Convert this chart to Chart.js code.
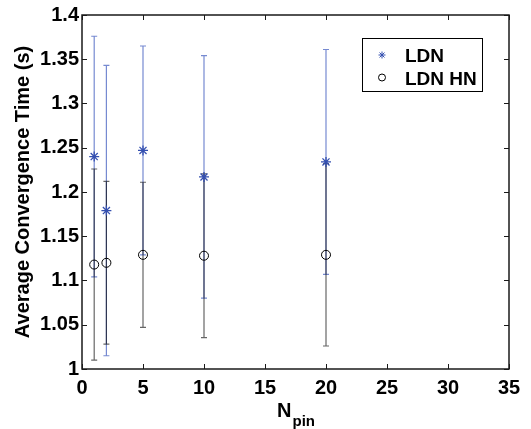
<!DOCTYPE html>
<html>
<head>
<meta charset="utf-8">
<script src="https://cdn.jsdelivr.net/npm/chart.js"></script>
<style>
  body { margin: 0; background: #fff; }
  #wrap { width: 531px; height: 429px; }
</style>
</head>
<body>
<div id="wrap"><canvas id="grafico" width="531" height="429"></canvas></div>
<script>
const nPin = [1, 2, 5, 10, 20];

const ldnMean = [1.240, 1.179, 1.247, 1.217, 1.234];
const ldnErr = [0.136, 0.164, 0.118, 0.137, 0.127];

const ldnHnMean = [1.118, 1.120, 1.129, 1.128, 1.129];
const ldnHnErr = [0.108, 0.092, 0.082, 0.0925, 0.103];

const xTicks = [0, 5, 10, 15, 20, 25, 30, 35];
const yTicks = [1, 1.05, 1.1, 1.15, 1.2, 1.25, 1.3, 1.35, 1.4];
const yTickLabels = ['1', '1.05', '1.1', '1.15', '1.2', '1.25', '1.3', '1.35', '1.4'];

const font = '"Liberation Sans", Arial, sans-serif';
const blue = '#3550b0';

const series = [
  { label: 'LDN', mean: ldnMean, err: ldnErr, barColor: 'rgba(60, 88, 190, 0.7)', style: 'star', color: blue },
  { label: 'LDN HN', mean: ldnHnMean, err: ldnHnErr, barColor: 'rgba(0, 0, 0, 0.6)', style: 'circle', color: '#000' }
];

// error bars drawn under the markers
const errorBars = {
  id: 'errorBars',
  beforeDatasetsDraw(chart) {
    const { ctx, scales: { x, y } } = chart;
    ctx.save();
    ctx.lineWidth = 1.2;
    series.forEach(s => {
      ctx.strokeStyle = s.barColor;
      nPin.forEach((n, i) => {
        const px = x.getPixelForValue(n);
        const top = y.getPixelForValue(s.mean[i] + s.err[i]);
        const bot = y.getPixelForValue(s.mean[i] - s.err[i]);
        ctx.beginPath();
        ctx.moveTo(px, top);
        ctx.lineTo(px, bot);
        ctx.moveTo(px - 3, top);
        ctx.lineTo(px + 3, top);
        ctx.moveTo(px - 3, bot);
        ctx.lineTo(px + 3, bot);
        ctx.stroke();
      });
    });
    ctx.restore();
  }
};

// box, inner ticks, legend and x title
const frame = {
  id: 'frame',
  afterDraw(chart) {
    const { ctx, chartArea: a, scales: { x, y } } = chart;
    ctx.save();
    ctx.strokeStyle = '#1a1a1a';
    ctx.lineWidth = 1;
    ctx.beginPath();
    xTicks.forEach(v => {
      const px = Math.round(x.getPixelForValue(v)) + 0.5;
      ctx.moveTo(px, a.bottom);
      ctx.lineTo(px, a.bottom - 5);
      ctx.moveTo(px, a.top);
      ctx.lineTo(px, a.top + 5);
    });
    yTicks.forEach(v => {
      const py = Math.round(y.getPixelForValue(v)) + 0.5;
      ctx.moveTo(a.left, py);
      ctx.lineTo(a.left + 5, py);
      ctx.moveTo(a.right, py);
      ctx.lineTo(a.right - 5, py);
    });
    ctx.stroke();

    ctx.lineWidth = 1.5;
    ctx.strokeRect(a.left, a.top, a.right - a.left, a.bottom - a.top);

    // legend
    ctx.fillStyle = '#fff';
    ctx.fillRect(362.5, 38.5, 120, 53);
    ctx.lineWidth = 1;
    ctx.strokeStyle = '#000';
    ctx.strokeRect(362.5, 38.5, 120, 53);
    ctx.textBaseline = 'alphabetic';
    series.forEach((s, i) => {
      const ly = 55 + i * 22.5;
      ctx.strokeStyle = s.color;
      ctx.fillStyle = 'rgba(0,0,0,0)';
      ctx.lineWidth = 1;
      Chart.helpers.drawPoint(ctx, { pointStyle: s.style, radius: 3.5, borderWidth: 1, rotation: 0 }, 382, ly);
      ctx.fillStyle = '#000';
      ctx.font = 'bold 19px ' + font;
      ctx.fillText(s.label, 405, ly + 7);
    });

    // N_pin
    const big = 'bold 20px ' + font;
    const small = 'bold 15px ' + font;
    ctx.font = big;
    const wN = ctx.measureText('N').width;
    ctx.font = small;
    const wSub = ctx.measureText('pin').width;
    const startX = (a.left + a.right) / 2 - (wN + wSub) / 2;
    ctx.fillStyle = '#000';
    ctx.font = big;
    ctx.fillText('N', startX, 416.5);
    ctx.font = small;
    ctx.fillText('pin', startX + wN + 1, 426);
    ctx.restore();
  }
};

new Chart(document.getElementById('grafico'), {
  type: 'scatter',
  data: {
    datasets: series.map(s => ({
      label: s.label,
      data: nPin.map((n, i) => ({ x: n, y: s.mean[i] })),
      pointStyle: s.style,
      pointRadius: s.style === 'star' ? 5 : 4.5,
      borderColor: s.color,
      backgroundColor: 'rgba(0,0,0,0)',
      borderWidth: s.style === 'star' ? 1.3 : 1,
      showLine: false
    }))
  },
  options: {
    responsive: false,
    animation: false,
    events: [],
    layout: { padding: { top: 12, right: 22, left: 0, bottom: 0 } },
    plugins: {
      legend: { display: false },
      tooltip: { enabled: false }
    },
    scales: {
      x: {
        type: 'linear',
        min: 0,
        max: 35,
        afterBuildTicks: scale => { scale.ticks = xTicks.map(v => ({ value: v })); },
        afterFit: scale => { scale.height = 60; },
        grid: { display: false, drawTicks: false },
        border: { display: false },
        ticks: {
          color: '#000',
          padding: 7,
          maxRotation: 0,
          font: { family: font, size: 20, weight: 'bold' }
        }
      },
      y: {
        type: 'linear',
        min: 1,
        max: 1.4,
        afterBuildTicks: scale => { scale.ticks = yTicks.map(v => ({ value: v })); },
        afterFit: scale => { scale.width = 82; },
        grid: { display: false, drawTicks: false },
        border: { display: false },
        ticks: {
          color: '#000',
          padding: 3,
          font: { family: font, size: 20, weight: 'bold' },
          callback: (v, i) => yTickLabels[i]
        },
        title: {
          display: true,
          text: 'Average Convergence Time (s)',
          color: '#000',
          padding: { top: 11, bottom: 0 },
          font: { family: font, size: 20, weight: 'bold' }
        }
      }
    }
  },
  plugins: [errorBars, frame]
});
</script>
</body>
</html>
